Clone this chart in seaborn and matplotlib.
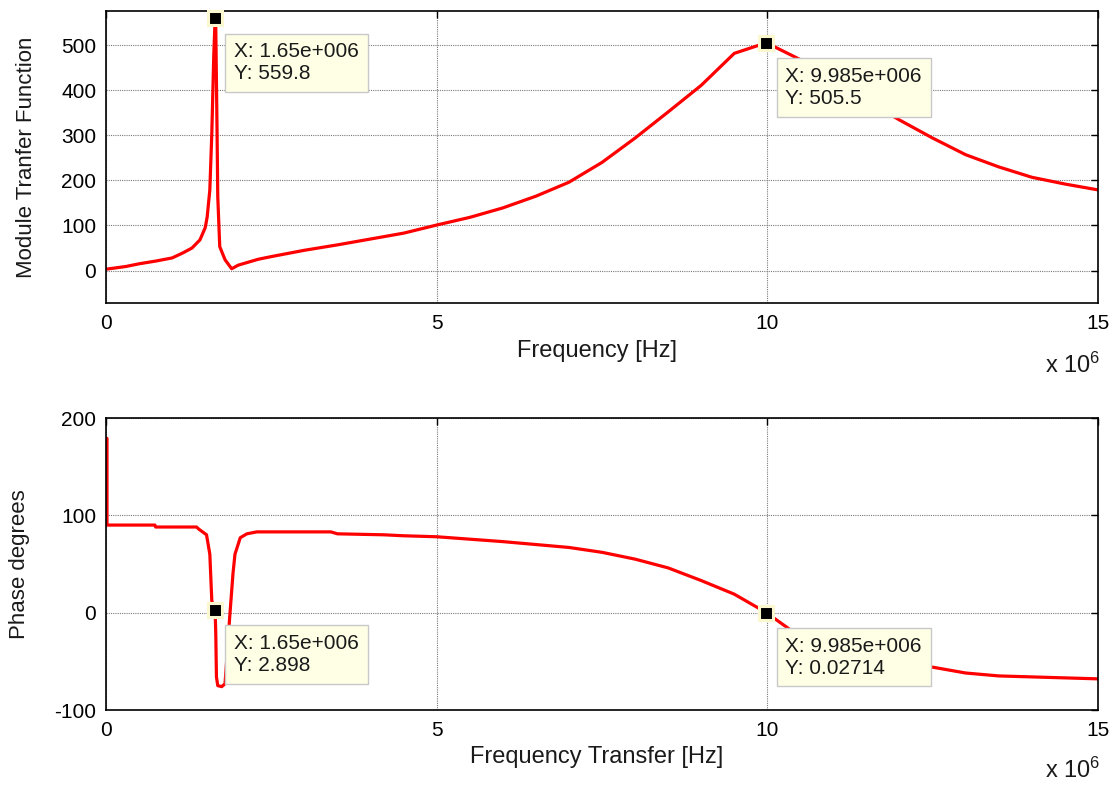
import matplotlib
matplotlib.use("Agg")
import matplotlib.pyplot as plt
import seaborn as sns
import numpy as np
import pandas as pd

# ---- data (frequency in units of 1e6 Hz) ----
mag_freq = [0.0, 0.1, 0.3, 0.5, 0.75, 1.0, 1.16, 1.3, 1.42, 1.5, 1.53, 1.57, 1.6, 1.63,
            1.65, 1.66, 1.68, 1.69, 1.72, 1.8, 1.9, 2.0, 2.3, 2.5, 3.0, 3.5, 4.0, 4.5,
            5.0, 5.5, 6.0, 6.5, 7.0, 7.5, 8.0, 8.5, 9.0, 9.5, 9.985, 10.5, 11.0, 11.5,
            12.0, 12.5, 13.0, 13.5, 14.0, 14.5, 15.0]
mag_vals = [3, 5, 9, 15, 21, 28, 39, 50, 68, 95, 119, 179, 305, 480,
            559.8, 540, 300, 164, 53, 24, 4, 12, 25, 31, 45, 57, 70, 83,
            101, 118, 139, 165, 196, 240, 294, 352, 411, 482, 505.5, 468, 422, 377,
            334, 294, 257, 230, 207, 192, 179]

ph_freq = [0.015, 0.015, 0.74, 0.75, 1.37, 1.4, 1.52, 1.57, 1.6, 1.65, 1.66, 1.67, 1.69,
           1.75, 1.8, 1.87, 1.92, 1.95, 2.03, 2.13, 2.28, 3.4, 3.5, 4.2, 4.5, 5.0,
           6.0, 7.0, 7.5, 8.0, 8.5, 9.0, 9.5, 9.985, 10.5, 11.0, 11.5, 12.0, 12.5,
           13.0, 13.5, 14.0, 15.0]
ph_vals = [179, 90, 90, 88, 88, 86, 80, 60, 12, 2.898, -22, -66, -75,
           -76, -73, -5, 40, 60, 77, 81, 83, 83, 81, 80, 79, 78,
           73, 67, 62, 55, 46, 33, 19, 0.02714, -25, -40, -48, -54, -56,
           -62, -65, -66, -68]

x_ticks = [0, 5, 10, 15]
mag_yticks = [0, 100, 200, 300, 400, 500]
ph_yticks = [-100, 0, 100, 200]

tips_mag = [(1.65, 559.8, "X: 1.65e+006\nY: 559.8"),
            (9.985, 505.5, "X: 9.985e+006\nY: 505.5")]
tips_ph = [(1.65, 2.898, "X: 1.65e+006\nY: 2.898"),
           (9.985, 0.02714, "X: 9.985e+006\nY: 0.02714")]

sns.set_theme(style="white")
plt.rcParams['font.family'] = ['Liberation Sans', 'DejaVu Sans']
plt.rcParams['mathtext.default'] = 'regular'

fig = plt.figure(figsize=(11.2, 7.85), dpi=100)
W, H = 1120, 785
def axrect(l, t, r, b):
    return [l / W, 1 - b / H, (r - l) / W, (b - t) / H]

ax1 = fig.add_axes(axrect(106, 11, 1098, 303))
ax2 = fig.add_axes(axrect(106, 418, 1098, 710))

df_mag = pd.DataFrame({"f": mag_freq, "v": mag_vals})
df_ph = pd.DataFrame({"f": ph_freq, "v": ph_vals})

sns.lineplot(data=df_mag, x="f", y="v", ax=ax1, color="red", linewidth=2.3,
             sort=False, estimator=None)
sns.lineplot(data=df_ph, x="f", y="v", ax=ax2, color="red", linewidth=2.3,
             sort=False, estimator=None)

def style(ax, ylim, yticks, xlabel, ylabel):
    ax.set_xlim(0, 15)
    ax.set_ylim(*ylim)
    ax.set_xticks(x_ticks)
    ax.set_xticklabels([str(t) for t in x_ticks])
    ax.set_yticks(yticks)
    ax.set_yticklabels([str(t) for t in yticks])
    ax.grid(True, color="#7a7a7a", linestyle=(0, (1, 1)), linewidth=0.8)
    ax.set_axisbelow(True)
    for s in ax.spines.values():
        s.set_color("black")
        s.set_linewidth(1.2)
        s.set_visible(True)
    ax.tick_params(direction="in", top=True, right=True, length=5, width=1,
                   labelsize=15, colors="black", pad=7)
    ax.tick_params(axis="x", pad=8)
    ax.set_xlabel(xlabel, fontsize=17, color="#1a1a1a")
    ax.set_ylabel(ylabel, fontsize=16, color="#1a1a1a")
    ax.xaxis.set_label_coords(0.495, -0.125)
    ax.yaxis.set_label_coords(-0.07, 0.5)

style(ax1, (-72, 576), mag_yticks, "Frequency [Hz]", "Module Tranfer Function")
style(ax2, (-100, 200), ph_yticks, "Frequency Transfer [Hz]", "Phase degrees")
ax2.yaxis.set_label_coords(-0.077, 0.5)

def add_tips(ax, tips):
    for x, y, label in tips:
        ax.plot([x], [y], marker="s", markersize=10.5, markerfacecolor="black",
                markeredgecolor="#fbf8d0", markeredgewidth=2.2, zorder=6,
                clip_on=False)
        ax.annotate(label, xy=(x, y), xytext=(19, -24), textcoords="offset pixels",
                    ha="left", va="top", fontsize=15, color="#1a1a1a",
                    linespacing=1.2, zorder=7,
                    bbox=dict(boxstyle="square,pad=0.42", fc="#ffffe6",
                              ec="#c8c8c8", lw=1))

add_tips(ax1, tips_mag)
add_tips(ax2, tips_ph)

fig.text(1100 / W, 1 - 373 / H, r"x 10$^{6}$", ha="right", va="baseline",
         fontsize=17, color="#1a1a1a")
fig.text(1100 / W, 1 - 778 / H, r"x 10$^{6}$", ha="right", va="baseline",
         fontsize=17, color="#1a1a1a")

fig.savefig("out.png", dpi=100, facecolor="white")
